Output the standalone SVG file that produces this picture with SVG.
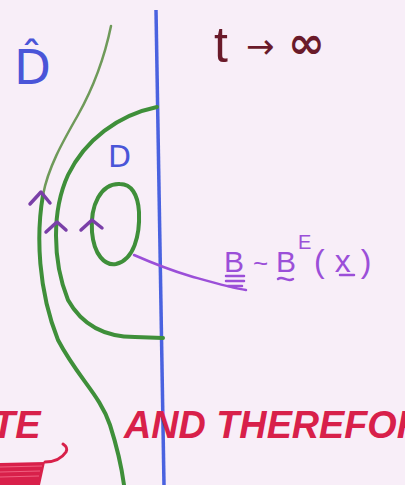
<svg xmlns="http://www.w3.org/2000/svg" width="405" height="485" viewBox="0 0 405 485">
<defs>
<style>
.g{fill:none;stroke:#3f8f3a;stroke-width:4;stroke-linecap:round;stroke-linejoin:round}
.gt{fill:none;stroke:#6f9a5a;stroke-width:2.5;stroke-linecap:round}
.ar{fill:none;stroke:#7a3fa8;stroke-width:3.5;stroke-linecap:round;stroke-linejoin:round}
.pu{fill:none;stroke:#9b4fd8;stroke-width:2.5;stroke-linecap:round}
.blue{font-family:"DejaVu Sans",sans-serif;fill:#4a55d8}
.red{font-family:"Liberation Sans",Arial,sans-serif;font-style:italic;font-weight:bold;fill:#d8204a}
.put{font-family:"Liberation Sans",Arial,sans-serif;fill:#9b4fd8}
</style>
</defs>
<rect width="405" height="485" fill="#f8eef8"/>
<g id="boundary">
<path d="M156 10 L164 485" stroke="#4a62e0" stroke-width="3.5" fill="none"/>
</g>
<g id="label-Dhat">
<text class="blue" x="14" y="84" font-size="48">D̂</text>
</g>
<g id="label-D">
<text class="blue" x="108" y="167" font-size="30">D</text>
</g>
<g id="label-t">
<text x="214" y="62" font-family="'Liberation Sans',Arial,sans-serif" font-size="50" fill="#6a1a2a">t</text>
<text x="246" y="58" font-family="'DejaVu Sans',sans-serif" font-size="34" fill="#6a1a2a">→</text>
<text x="288" y="58" font-family="'DejaVu Sans',sans-serif" font-size="44" font-weight="bold" fill="#6a1a2a">∞</text>
</g>
<g id="connectors">
<path class="gt" d="M111 26 C104 60 92 90 78 115 C62 143 48 168 43 195"/>
<path class="g" d="M43 195 C36 235 38 290 58 340 C78 378 100 395 110 425 C118 450 122 470 124 485"/>
<path class="g" d="M157 107 C118 115 85 140 68 175 C52 210 52 260 68 300 C82 325 105 337 135 337 L163 338"/>
<path class="g" d="M120 184 C101 183 90 205 92 232 C94 255 105 266 116 264 C134 260 140 235 139 212 C138 194 131 184 120 184 Z"/>
<path class="ar" d="M30 204 L41 192 L50 203"/>
<path class="ar" d="M46 232 L57 222 L66 230"/>
<path class="ar" d="M81 230 L92 220 L102 228"/>
<path class="pu" d="M134 255 C150 262 170 270 190 276 C215 283 232 288 246 290"/>
</g>
<g id="label-B">
<text class="put" x="224" y="272" font-size="30">B</text>
<path class="pu" d="M226 276 L244 276 M226 281 L244 281 M228 286 L242 286"/>
<text class="put" x="253" y="272" font-size="26">~</text>
<text class="put" x="276" y="272" font-size="30">B</text>
<path class="pu" d="M278 279 C283 275 287 283 293 279"/>
<text class="put" x="298" y="249" font-size="20">E</text>
<text class="put" x="314" y="272" font-size="32" letter-spacing="10">(x)</text>
<path class="pu" d="M340 275 L354 275"/>
</g>
<g id="red-text">
<text class="red" x="-8" y="438" font-size="38">TE</text>
<text class="red" x="124" y="438" font-size="38" textLength="300" lengthAdjust="spacingAndGlyphs">AND THEREFOR</text>
</g>
<g id="red-mark">
<path d="M0 463 L45 462 L40 485 L0 485 Z" fill="#d8204a"/>
<path d="M0 467 L42 466 M0 472 L40 471 M0 477 L39 476" stroke="#f06080" stroke-width="1.2"/>
<path d="M45 462 C55 462 62 458 66 452 C68 448 66 446 63 444" fill="none" stroke="#d8204a" stroke-width="3" stroke-linecap="round"/>
</g>
</svg>
